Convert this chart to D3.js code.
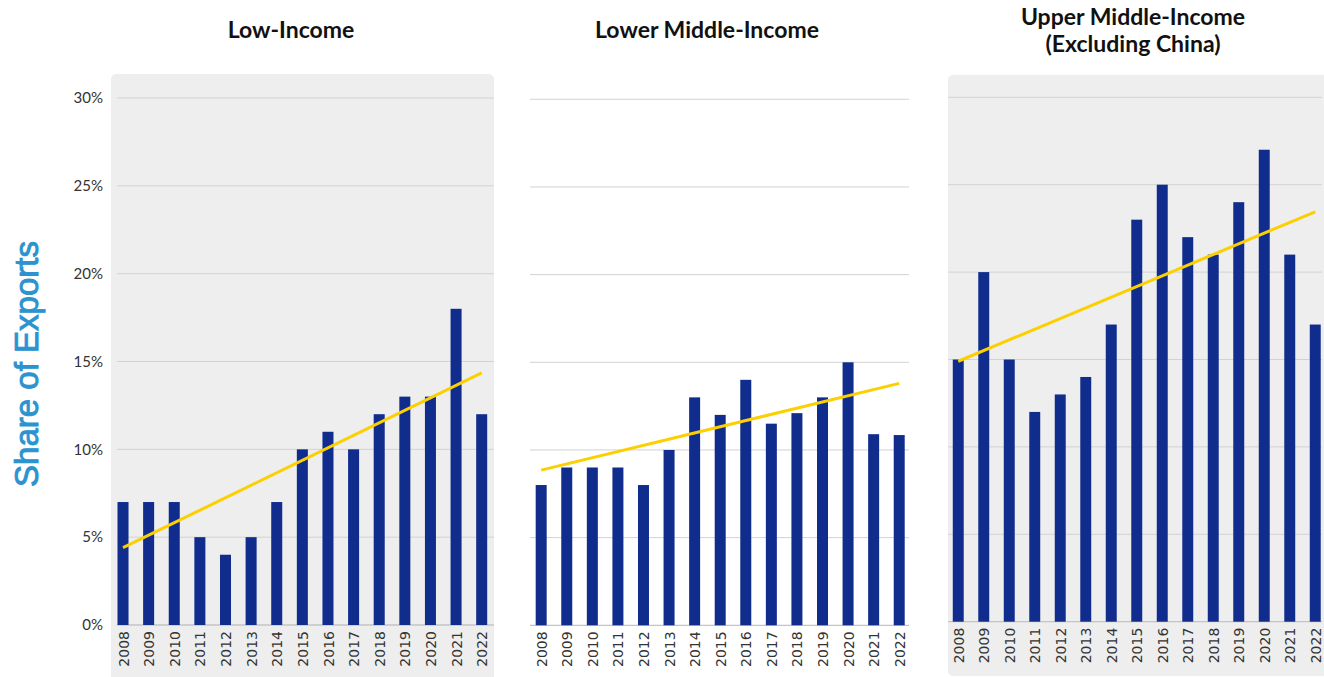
<!DOCTYPE html>
<html><head><meta charset="utf-8">
<script src="https://cdn.jsdelivr.net/npm/d3@7"></script>
<style>
html,body{margin:0;padding:0;background:#fff;}
svg{display:block;}
</style></head>
<body>
<svg id="chart" width="1324" height="677"></svg>
<script>
const years = ["2008","2009","2010","2011","2012","2013","2014","2015","2016","2017","2018","2019","2020","2021","2022"];
const lowIncome = [7,7,7,5,4,5,7,10,11,10,12,13,13,18,12];
const lowerMiddle = [8,9,9,9,8,10,13,12,14,11.5,12.1,13,15,10.9,10.85];
const upperMiddle = [15,20,15,12,13,14,17,23,25,22,21,24,27,21,17];
const lowTrend = [4.4, 14.35];
const lowerMiddleTrend = [8.85, 13.8];
const upperMiddleTrend = [14.9, 23.45];
const yTicks = [0,5,10,15,20,25,30];
const yTickLabels = ["0%","5%","10%","15%","20%","25%","30%"];
const titles = [["Low-Income"],["Lower Middle-Income"],["Upper Middle-Income","(Excluding China)"]];
const axisTitle = "Share of Exports";

const panels = [
  {values: lowIncome, trend: lowTrend, title: titles[0], bg: [111,74,383,620], xr:[110.2,494.5], yr:[625,98], grid:[117,494], tx:291, ty:[38], showY:true},
  {values: lowerMiddle, trend: lowerMiddleTrend, title: titles[1], bg: null, xr:[528.4,912], yr:[625.3,99.3], grid:[530,909], tx:707, ty:[38], showY:false},
  {values: upperMiddle, trend: upperMiddleTrend, title: titles[2], bg: [948,75,390,601], xr:[945.5,1328], yr:[621.7,97.3], grid:[948,1322], tx:1133, ty:[25,52], showY:false}
];

const svg = d3.select("#chart");
const font = "Lato, 'Open Sans', sans-serif";

panels.forEach(p => {
  const g = svg.append("g");
  if (p.bg) {
    g.append("rect").attr("x", p.bg[0]).attr("y", p.bg[1]).attr("width", p.bg[2]).attr("height", p.bg[3])
      .attr("rx", 5).attr("fill", "#eeeeee");
  }
  const x = d3.scalePoint().domain(years).range(p.xr).padding(0.5);
  const step = x.step();
  const y = d3.scaleLinear().domain([0,30]).range(p.yr);

  g.selectAll("line.grid").data(yTicks).join("line")
    .attr("class","grid")
    .attr("x1", p.grid[0]).attr("x2", p.grid[1])
    .attr("y1", d => y(d)).attr("y2", d => y(d))
    .attr("stroke", d => d === 0 ? "#c4c4c4" : "#d2d2d2")
    .attr("stroke-width", d => d === 0 ? 1.3 : 1);

  if (p.showY) {
    const ax = d3.axisLeft(y).tickValues(yTicks).tickSize(0).tickPadding(0)
      .tickFormat((d,i) => yTickLabels[i]);
    const axg = g.append("g").attr("transform", `translate(103,0)`).call(ax);
    axg.select(".domain").remove();
    axg.selectAll("text").attr("font-family", font).attr("font-size", 15).attr("fill", "#333");
  }

  const bw = step * 0.43;
  g.selectAll("rect.bar").data(p.values).join("rect")
    .attr("class","bar")
    .attr("x", (d,i) => x(years[i]) - bw/2)
    .attr("width", bw)
    .attr("y", d => y(d))
    .attr("height", d => y(0) - y(d))
    .attr("fill", "#102d8e");

  const xa = d3.axisBottom(x).tickSize(0).tickPadding(0);
  const xg = g.append("g").attr("transform", `translate(0,${y(0)})`).call(xa);
  xg.select(".domain").remove();
  xg.selectAll("text")
    .attr("font-family", "'DejaVu Sans', sans-serif").attr("font-size", 14).attr("fill", "#333")
    .attr("text-anchor", "end")
    .attr("transform", "rotate(-90)")
    .attr("x", -6).attr("y", 0).attr("dy", "0.36em");

  const line = d3.line().x(d => x(d[0])).y(d => y(d[1]));
  g.append("path")
    .datum([[years[0], p.trend[0]], [years[years.length-1], p.trend[1]]])
    .attr("d", line).attr("fill","none").attr("stroke","#fcd000").attr("stroke-width", 3);

  p.title.forEach((t, i) => {
    g.append("text").attr("x", p.tx).attr("y", p.ty[i]).attr("text-anchor","middle")
      .attr("font-family", font).attr("font-weight", 700).attr("font-size", 23).attr("fill","#111")
      .text(t);
  });
});

svg.append("text")
  .attr("transform", "translate(38,364) rotate(-90)")
  .attr("text-anchor","middle")
  .attr("font-family", "'Liberation Sans', Arial, sans-serif").attr("font-size", 33)
  .attr("fill", "#2b93cf").attr("stroke", "#2b93cf").attr("stroke-width", 0.9)
  .text(axisTitle);
</script>
</body></html>
